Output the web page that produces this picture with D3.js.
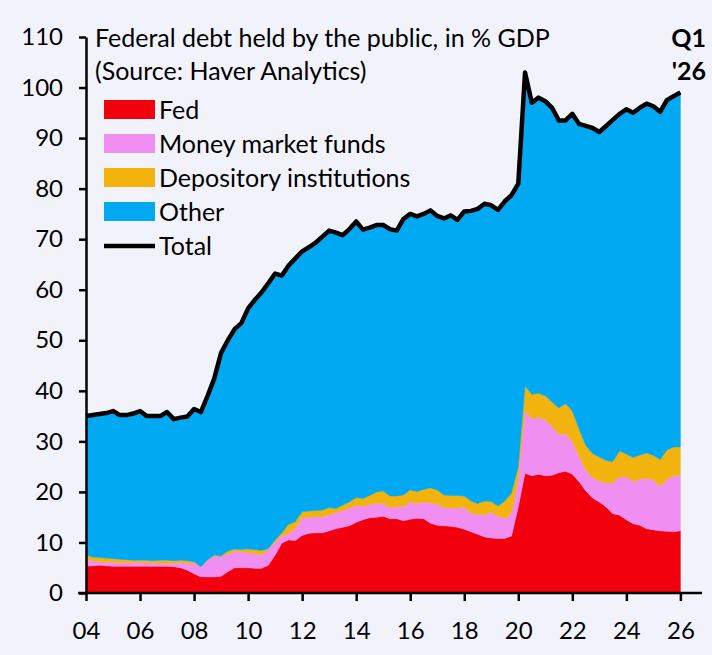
<!DOCTYPE html>
<html>
<head>
<meta charset="utf-8">
<script src="https://cdn.jsdelivr.net/npm/d3@7"></script>
<style>
  body { margin: 0; background: #f2f2fb; }
  text { font-family: Lato, "Noto Sans", sans-serif; fill: #000; }
</style>
</head>
<body>
<div id="holder"></div>
<script>

var width = 712;
var height = 655;
var margin = {top: 37, right: 10, bottom: 62, left: 86};
var fontSize = 25;

// quarterly, Q1 2004 .. Q1 2026, % of GDP
var startYear = 2004;
var fed = [5.3, 5.4, 5.5, 5.4, 5.3, 5.3, 5.3, 5.3, 5.3, 5.3, 5.3, 5.3, 5.3, 5.2, 5.0, 4.5,
  3.8, 3.2, 3.2, 3.2, 3.3, 4.2, 5.0, 5.0, 5.0, 4.9, 4.9, 5.5, 7.5, 9.9, 10.5, 10.4,
  11.4, 11.8, 11.9, 11.9, 12.3, 12.7, 13.0, 13.3, 14.0, 14.5, 14.9, 15.0, 15.2, 14.7, 14.7, 14.3,
  14.6, 14.8, 14.7, 13.8, 13.4, 13.3, 13.2, 13.0, 12.6, 12.1, 11.6, 11.1, 10.9, 10.8, 10.8, 11.3,
  17.0, 23.7, 23.2, 23.5, 23.2, 23.3, 23.8, 24.1, 23.5, 22.0, 20.2, 18.8, 18.0, 17.0, 15.7, 15.4,
  14.5, 13.7, 13.4, 12.7, 12.5, 12.3, 12.2, 12.1, 12.3];
var fedPlusMmf = [6.5, 6.4, 6.2, 6.1, 6.1, 6.0, 6.0, 6.0, 6.0, 6.0, 5.9, 5.9, 5.9, 5.9, 6.0, 5.9,
  5.9, 5.2, 6.5, 7.3, 7.2, 7.7, 8.2, 8.1, 8.0, 7.8, 7.5, 8.6, 10.0, 11.3, 11.8, 12.8,
  14.9, 15.0, 15.1, 15.1, 15.5, 15.9, 16.3, 16.8, 17.3, 17.2, 17.5, 17.7, 17.7, 16.9, 17.0, 17.1,
  18.0, 17.7, 18.0, 17.8, 17.6, 16.9, 16.8, 16.8, 17.0, 15.8, 15.6, 15.5, 16.0, 15.2, 14.8, 15.8,
  22.5, 36.2, 34.5, 34.7, 34.3, 33.0, 31.4, 31.5, 30.0, 27.0, 24.3, 22.8, 22.2, 21.7, 21.8, 23.0,
  23.0, 22.1, 22.5, 22.7, 22.4, 21.1, 22.5, 23.2, 23.3];
var fedMmfDep = [7.5, 7.1, 7.0, 6.9, 6.8, 6.7, 6.6, 6.5, 6.5, 6.5, 6.4, 6.5, 6.5, 6.4, 6.5, 6.4,
  6.2, 5.2, 6.6, 7.5, 7.3, 8.3, 8.7, 8.6, 8.7, 8.6, 8.4, 8.8, 10.5, 11.9, 13.6, 14.1,
  16.1, 16.2, 16.3, 16.4, 16.9, 16.7, 17.4, 18.0, 18.9, 18.7, 19.3, 20.0, 20.2, 19.2, 19.2, 19.4,
  20.4, 20.1, 20.5, 20.8, 20.4, 19.4, 19.3, 19.3, 19.2, 18.2, 17.7, 18.2, 18.1, 17.2, 18.2, 19.8,
  25.0, 41.0, 39.3, 39.5, 39.0, 37.8, 36.6, 37.5, 36.0, 32.5, 29.2, 27.6, 26.9, 26.2, 26.0, 28.1,
  27.5, 26.8, 27.3, 27.7, 27.2, 26.4, 28.3, 28.9, 28.9];
var total = [35.0, 35.2, 35.4, 35.6, 36.0, 35.2, 35.2, 35.5, 36.0, 35.0, 35.0, 35.0, 35.8, 34.4, 34.7, 34.9,
  36.4, 35.8, 39.0, 42.5, 47.5, 50.0, 52.2, 53.4, 56.3, 58.0, 59.5, 61.3, 63.2, 62.8, 64.8, 66.2,
  67.6, 68.4, 69.3, 70.5, 71.7, 71.3, 70.8, 72.0, 73.5, 71.9, 72.3, 72.8, 72.8, 72.0, 71.7, 74.0,
  75.0, 74.5, 75.0, 75.7, 74.6, 74.1, 74.7, 73.8, 75.5, 75.6, 76.0, 77.0, 76.7, 75.8, 77.5, 78.7,
  81.0, 103.0, 97.0, 98.0, 97.3, 96.0, 93.5, 93.5, 94.8, 92.8, 92.4, 92.0, 91.2, 92.4, 93.6, 94.8,
  95.7, 95.0, 96.0, 96.8, 96.3, 95.2, 97.5, 98.3, 99.0];

var seriesNames = ["Fed", "Money market funds", "Depository institutions", "Other"];
var seriesKeys = ["fed", "mmf", "dep", "other"];
var colors = ["#f2000e", "#f08ef2", "#f2b40c", "#00a9f2"];
var yTicks = [0, 10, 20, 30, 40, 50, 60, 70, 80, 90, 100, 110];
var xTicks = [2004, 2006, 2008, 2010, 2012, 2014, 2016, 2018, 2020, 2022, 2024, 2026];

var data = total.map(function(t, i) {
  return {
    date: startYear + i / 4,
    fed: fed[i],
    mmf: fedPlusMmf[i] - fed[i],
    dep: fedMmfDep[i] - fedPlusMmf[i],
    other: t - fedMmfDep[i],
    total: t
  };
});

var svg = d3.select("#holder")
  .append("svg")
  .attr("width", width)
  .attr("height", height);

svg.append("rect")
  .attr("width", width)
  .attr("height", height)
  .attr("fill", "#f2f2fb");

var x = d3.scaleLinear()
  .domain([2004, 2026.8])
  .range([margin.left, width - margin.right]);

var y = d3.scaleLinear()
  .domain([0, 110])
  .range([height - margin.bottom, margin.top]);

var stack = d3.stack().keys(seriesKeys);
var layers = stack(data);

var area = d3.area()
  .x(function(d) { return x(d.data.date); })
  .y0(function(d) { return y(d[0]); })
  .y1(function(d) { return y(d[1]); });

svg.append("g")
  .selectAll("path")
  .data(layers)
  .enter().append("path")
    .attr("d", area)
    .attr("fill", function(d, i) { return colors[i]; })
    .attr("stroke", function(d, i) { return colors[i]; })
    .attr("stroke-width", 0.5);

var line = d3.line()
  .x(function(d) { return x(d.date); })
  .y(function(d) { return y(d.total); });

svg.append("path")
  .datum(data)
  .attr("d", line)
  .attr("fill", "none")
  .attr("stroke", "#000")
  .attr("stroke-width", 4.5)
  .attr("stroke-linejoin", "round");

// axes
var yAxis = svg.append("g")
  .attr("transform", "translate(" + margin.left + ",0)")
  .call(d3.axisLeft(y).tickValues(yTicks).tickSize(7).tickPadding(16).tickSizeOuter(0));

var xAxis = svg.append("g")
  .attr("transform", "translate(0," + (height - margin.bottom) + ")")
  .call(d3.axisBottom(x).tickValues(xTicks).tickSize(8).tickPadding(21).tickSizeOuter(0)
    .tickFormat(function(d) { return d3.format("02d")(d % 100); }));

[yAxis, xAxis].forEach(function(a) {
  a.select(".domain").attr("stroke", "#000").attr("stroke-width", 2.5);
  a.selectAll(".tick line").attr("stroke", "#000").attr("stroke-width", 2.5);
  a.selectAll(".tick text").attr("font-size", 24).attr("font-family", "Lato, sans-serif").attr("fill", "#000");
});
xAxis.select(".domain").attr("d", "M" + (margin.left - 8) + ",0H" + (width - margin.right));

// title
svg.append("text")
  .attr("x", 95)
  .attr("y", 47)
  .attr("font-size", fontSize)
  .text("Federal debt held by the public, in % GDP");
svg.append("text")
  .attr("x", 95)
  .attr("y", 80)
  .attr("font-size", fontSize)
  .text("(Source: Haver Analytics)");
svg.append("text")
  .attr("x", 706)
  .attr("y", 47)
  .attr("font-size", fontSize)
  .attr("font-weight", "bold")
  .attr("text-anchor", "end")
  .text("Q1");
svg.append("text")
  .attr("x", 706)
  .attr("y", 80)
  .attr("font-size", fontSize)
  .attr("font-weight", "bold")
  .attr("text-anchor", "end")
  .text("'26");

// legend
var legend = svg.append("g").attr("transform", "translate(104,100)");
var rows = legend.selectAll("g")
  .data(seriesNames.concat(["Total"]))
  .enter().append("g")
    .attr("transform", function(d, i) { return "translate(0," + i * 34 + ")"; });

rows.filter(function(d, i) { return i < 4; })
  .append("rect")
    .attr("width", 51)
    .attr("height", 19)
    .attr("fill", function(d, i) { return colors[i]; });

rows.filter(function(d, i) { return i == 4; })
  .append("line")
    .attr("x1", 0)
    .attr("x2", 51)
    .attr("y1", 10)
    .attr("y2", 10)
    .attr("stroke", "#000")
    .attr("stroke-width", 4.5);

rows.append("text")
  .attr("x", 55)
  .attr("y", 19)
  .attr("font-size", fontSize)
  .text(function(d) { return d; });

</script>
</body>
</html>
